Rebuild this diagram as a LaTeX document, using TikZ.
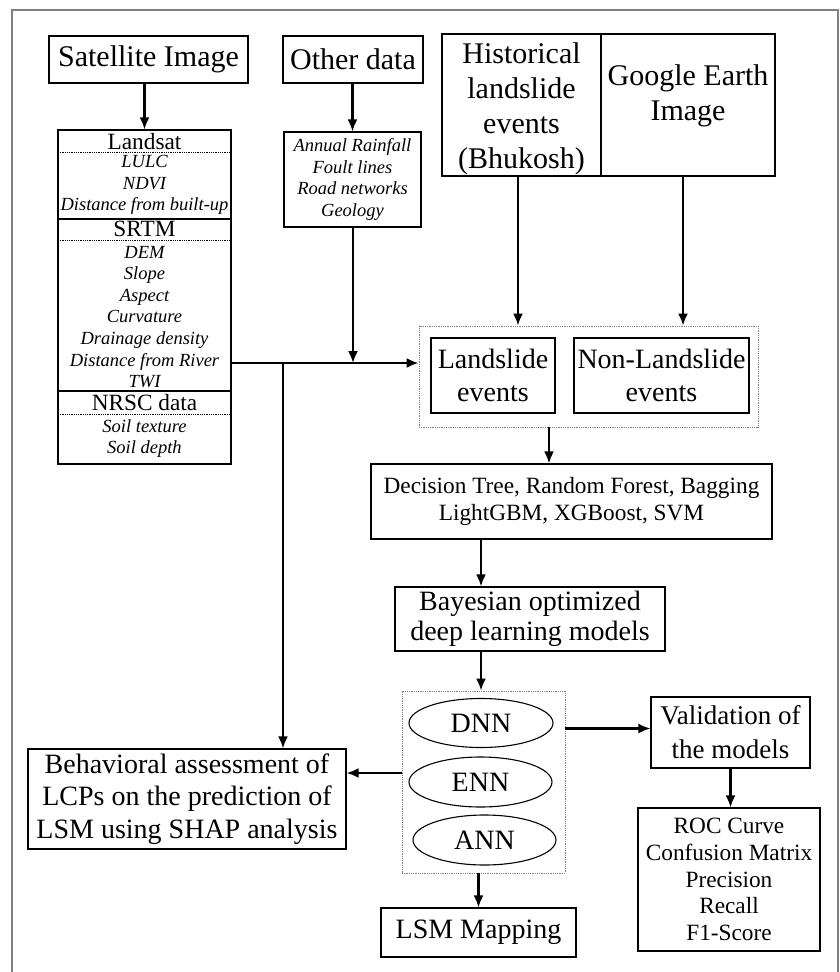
\documentclass[tikz,border=0pt]{standalone}
\usepackage{fontspec}
\setmainfont{Liberation Serif}
\usetikzlibrary{arrows.meta,shapes.geometric}

\tikzset{
    box/.style={draw, line width=1.1pt, inner sep=0pt, align=center},
    grp/.style={draw=gray, densely dotted, line width=0.8pt, inner sep=0pt},
    oval/.style={draw, ellipse, line width=1.1pt, inner sep=0pt},
    arr/.style={-{Latex[length=12pt,width=10pt]}, line width=2.2pt},
    fA/.style={font=\fontsize{30}{35}\selectfont},
    fB/.style={font=\fontsize{28}{32.5}\selectfont},
    fC/.style={font=\fontsize{23.3}{26.8}\selectfont},
    fD/.style={font=\fontsize{18.5}{21.6}\selectfont\itshape, align=center, inner sep=0pt},
}

\begin{document}
\begin{tikzpicture}[x=1pt,y=-1pt]
    \useasboundingbox (0,0) rectangle (840,972);
    \draw [gray, line width=1.2pt] (12,972) -- (12,10) -- (838,10) -- (838,972);

    % inputs
    \node [box, fA, minimum width=199, minimum height=47] (sat) at (148.5,59.5) {Satellite Image};
    \node [box, fA, minimum width=140, minimum height=47] (other) at (353,59.5) {Other data};
    \node [box, minimum width=159, minimum height=142] (hist) at (521.5,105) {};
    \node [fA, align=center, inner sep=0pt] (histt) at (521.5,109) {Historical\\landslide\\events\\(Bhukosh)};
    \node [box, minimum width=174, minimum height=142] (gee) at (688,105) {};
    \node [fA, align=center, inner sep=0pt] (geet) at (688,96) {Google Earth\\Image};

    % conditioning factors
    \node [box, minimum width=173, minimum height=334] (lst) at (144.5,297) {};
    \node [fC, inner sep=0pt] (lsat) at (144.5,142) {Landsat};
    \draw [densely dotted, line width=0.8pt] (58,152) -- (231,152);
    \node [fD] (lsatl) at (144.5,185) {LULC\\NDVI\\Distance from built-up};
    \draw [line width=1.1pt] (58,219) -- (231,219);
    \node [fC, inner sep=0pt] (srtm) at (144.5,229) {SRTM};
    \draw [densely dotted, line width=0.8pt] (58,240) -- (231,240);
    \node [fD] (srtml) at (144.5,317) {DEM\\Slope\\Aspect\\Curvature\\Drainage density\\Distance from River\\TWI};
    \draw [line width=1.1pt] (58,391) -- (231,391);
    \node [fC, inner sep=0pt] (nrsc) at (144.5,403) {NRSC data};
    \draw [densely dotted, line width=0.8pt] (58,414) -- (231,414);
    \node [fD] (nrscl) at (144.5,438.5) {Soil texture\\Soil depth};

    \node [box, fD, minimum width=137, minimum height=95] (oth) at (352.5,179.5) {Annual Rainfall\\Foult lines\\Road networks\\Geology};

    % inventory
    \node [grp, minimum width=339, minimum height=101] (grp1) at (588.5,376.5) {};
    \node [box, fB, minimum width=124, minimum height=75] (ls) at (493,375.5) {Landslide\\events};
    \node [box, fB, minimum width=175, minimum height=75] (nls) at (661.5,375.5) {Non-Landslide\\events};

    % models
    \node [box, fC, minimum width=401, minimum height=75] (dt) at (571.5,501.5) {Decision Tree, Random Forest, Bagging\\LightGBM, XGBoost, SVM};
    \node [box, fB, minimum width=270, minimum height=64, font=\fontsize{28}{30.5}\selectfont] (bay) at (530,619) {Bayesian optimized\\deep learning models};
    \node [grp, minimum width=163, minimum height=182] (grp2) at (483.5,782) {};
    \node [oval, fB, minimum width=144, minimum height=49] (dnn) at (481,723) {DNN};
    \node [oval, fB, minimum width=143, minimum height=50] (enn) at (480.5,782) {ENN};
    \node [oval, fB, minimum width=143, minimum height=50] (ann) at (484.5,840) {ANN};

    % outputs
    \node [box, fB, minimum width=318, minimum height=100] (beh) at (187,799) {Behavioral assessment of\\LCPs on the prediction of\\LSM using SHAP analysis};
    \node [box, fB, minimum width=159, minimum height=71, font=\fontsize{27}{34}\selectfont] (val) at (730.5,732.5) {Validation of\\the models};
    \node [box, fC, minimum width=182, minimum height=143] (roc) at (729,879.5) {ROC Curve\\Confusion Matrix\\Precision\\Recall\\F1-Score};
    \node [box, fB, minimum width=195, minimum height=49] (lsm) at (478.5,932.5) {LSM Mapping};

    \coordinate (j1) at (283,363);
    \coordinate (j2) at (353,363);

    % connectors
    \draw [arr] (lst.north |- sat.south) -- (lst.north);
    \draw [arr] (oth.north |- other.south) -- (oth.north);
    \draw [arr] ([xshift=-3.5]hist.south) -- ([xshift=-3.5]hist.south |- grp1.north);
    \draw [arr] ([xshift=-5]gee.south) -- ([xshift=-5]gee.south |- grp1.north);
    \draw [arr] (lst.east |- j1) -- (j1 -| grp1.west);
    \draw [arr] (oth.south -| j2) -- (j2);
    \draw [arr] (j1) -- (j1 |- beh.north);
    \draw [arr] ([xshift=-39.5]grp1.south) -- ([xshift=-39.5]grp1.south |- dt.north);
    \draw [arr] (dnn.north |- dt.south) -- (dnn.north |- bay.north);
    \draw [arr] (dnn.north |- bay.south) -- (dnn.north |- grp2.north);
    \draw [arr] (lsm.north |- grp2.south) -- (lsm.north);
    \draw [arr] ([yshift=9]grp2.west) -- ([yshift=9]grp2.west -| beh.east);
    \draw [arr] ([yshift=4]grp2.east |- val.west) -- ([yshift=4]val.west);
    \draw [arr] (val.south) -- (val.south |- roc.north);
\end{tikzpicture}
\end{document}
